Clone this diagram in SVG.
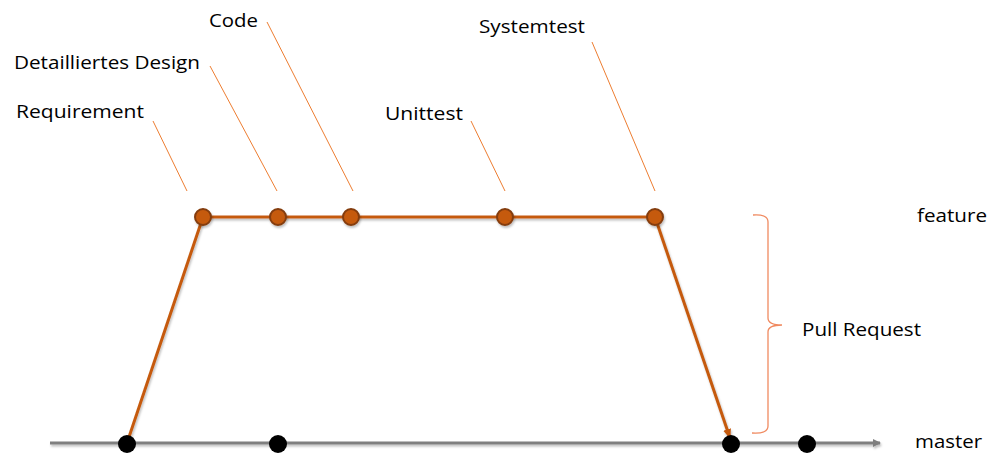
<svg xmlns="http://www.w3.org/2000/svg" width="1001" height="473" viewBox="0 0 1001 473">
<style>
text{font-family:"Open Sans","Liberation Sans",Arial,sans-serif;font-size:18px;fill:#000}
.lead{stroke:#ED7D31;stroke-width:1;fill:none}
.feat{stroke:#C55A11;stroke-width:3;fill:none}
.fnode{fill:#C55A11;stroke:#843C0C;stroke-width:2}
.mnode{fill:#000}
.master{stroke:#7F7F7F;stroke-width:3;fill:none}
.brace{stroke:#F08A60;stroke-width:1.3;fill:none}
</style>
<defs>
<filter id="sh" x="-10%" y="-10%" width="120%" height="140%">
<feDropShadow dx="1" dy="2" stdDeviation="1" flood-color="#000" flood-opacity="0.25"/>
</filter>
<marker id="arrG" markerWidth="8" markerHeight="8" refX="7" refY="4" orient="auto" markerUnits="userSpaceOnUse">
<path d="M0,0 L8,4 L0,8 Z" fill="#7F7F7F"/>
</marker>
<marker id="arrO" markerWidth="10" markerHeight="10" refX="9" refY="5" orient="auto" markerUnits="userSpaceOnUse">
<path d="M0,1 L10,5 L0,9 Z" fill="#C55A11"/>
</marker>
</defs>
<g id="connectors" filter="url(#sh)">
<line class="master" x1="50" y1="443" x2="880" y2="443" marker-end="url(#arrG)"/>
<line class="feat" x1="127" y1="443" x2="203" y2="217"/>
<line class="feat" x1="203" y1="217" x2="655" y2="217"/>
<line class="feat" x1="655" y1="217" x2="730" y2="438" marker-end="url(#arrO)"/>
</g>
<g id="leaders">
<line class="lead" x1="153" y1="121" x2="187" y2="191"/>
<line class="lead" x1="210" y1="66" x2="277" y2="191"/>
<line class="lead" x1="267" y1="22" x2="353" y2="191"/>
<line class="lead" x1="471" y1="121" x2="505" y2="191"/>
<line class="lead" x1="592" y1="42" x2="655" y2="191"/>
</g>
<g id="feature-nodes" filter="url(#sh)">
<circle id="n-req" class="fnode" cx="203" cy="217" r="8"/>
<circle id="n-design" class="fnode" cx="278" cy="217" r="8"/>
<circle id="n-code" class="fnode" cx="351" cy="217" r="8"/>
<circle id="n-unit" class="fnode" cx="505" cy="217" r="8"/>
<circle id="n-sys" class="fnode" cx="655" cy="217" r="8"/>
</g>
<g id="master-nodes">
<circle id="m1" class="mnode" cx="127" cy="444" r="9"/>
<circle id="m2" class="mnode" cx="278" cy="444" r="9"/>
<circle id="m3" class="mnode" cx="731" cy="444" r="9"/>
<circle id="m4" class="mnode" cx="807" cy="444" r="9"/>
</g>
<g id="brace">
<path class="brace" d="M753,215 Q768,214 768,222 L768,318 Q768,325 782,325 Q768,325 768,332 L768,426 Q768,434 752,433"/>
</g>
<g id="labels">
<text id="t-req" x="16" y="118" textLength="128" lengthAdjust="spacingAndGlyphs">Requirement</text>
<text id="t-design" x="14" y="69" textLength="186" lengthAdjust="spacingAndGlyphs">Detailliertes Design</text>
<text id="t-code" x="209" y="27" textLength="49" lengthAdjust="spacingAndGlyphs">Code</text>
<text id="t-unit" x="385" y="120" textLength="78" lengthAdjust="spacingAndGlyphs">Unittest</text>
<text id="t-sys" x="479" y="33" textLength="106" lengthAdjust="spacingAndGlyphs">Systemtest</text>
<text id="t-feature" x="917" y="222" textLength="70" lengthAdjust="spacingAndGlyphs">feature</text>
<text id="t-pr" x="802" y="336" textLength="119" lengthAdjust="spacingAndGlyphs">Pull Request</text>
<text id="t-master" x="915" y="448" textLength="67" lengthAdjust="spacingAndGlyphs">master</text>
</g>
</svg>
